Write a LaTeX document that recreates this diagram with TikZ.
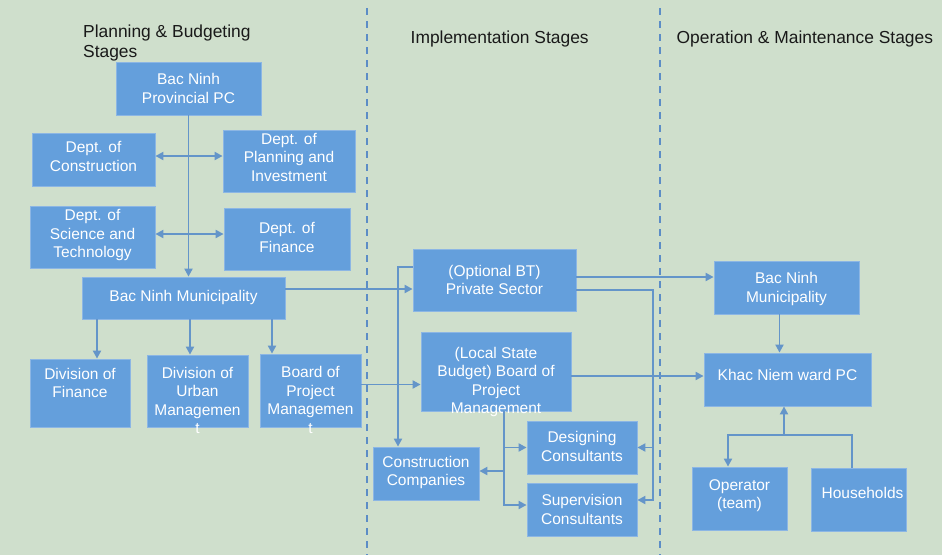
\documentclass[tikz,border=0pt]{standalone}
\usepackage{fontspec}
\setmainfont{Liberation Sans}
\usetikzlibrary{arrows.meta}

\definecolor{bggreen}{RGB}{207,223,204}
\definecolor{boxblue}{RGB}{100,159,220}
\definecolor{boxedge}{RGB}{140,182,228}
\definecolor{linkblue}{RGB}{100,149,201}
\definecolor{sepblue}{RGB}{92,141,198}

\tikzset{
    box/.style={draw=boxedge, fill=boxblue, line width=0.8pt, inner sep=0pt},
    boxtext/.style={text=white, font=\fontsize{15.5}{18.5}\selectfont, align=center, inner sep=0pt},
    stagetitle/.style={font=\fontsize{17.4}{19.5}\selectfont, inner sep=0pt, text=black!90},
    link/.style={draw=linkblue, line width=1.9pt},
    arr/.style={link, -{Triangle[length=8pt,width=8pt]}},
    dblarr/.style={link, {Triangle[length=8pt,width=8pt]}-{Triangle[length=8pt,width=8pt]}},
    separator/.style={draw=sepblue, line width=2pt, dash pattern=on 7pt off 6pt},
}

\begin{document}
\begin{tikzpicture}[x=1pt, y=-1pt]
\useasboundingbox (0,0) rectangle (942,555);
\fill[bggreen] (0,0) rectangle (942,555);

%% Stage separators
\draw[separator] (367,8) -- (367,555);
\draw[separator] (660,8) -- (660,555);

%% Stage titles
\node[stagetitle, anchor=north west, align=left] (plan) at (83,25) {Planning \& Budgeting\\Stages};
\node[stagetitle, anchor=base west] (impl) at (410.5,43) {Implementation Stages};
\node[stagetitle, anchor=base west] (oper) at (676.5,43) {Operation \& Maintenance Stages};

%% Planning & budgeting
\node[box, minimum width=145pt, minimum height=53pt,
    label={[boxtext]center:{Bac Ninh\\Provincial PC}}] (ppc) at (188.5,88.5) {};
\node[box, minimum width=123pt, minimum height=53pt,
    label={[boxtext, yshift=3pt]center:{Dept. of\\Construction}}] (dcon) at (93.5,159.5) {};
\node[box, minimum width=132pt, minimum height=62pt,
    label={[boxtext, yshift=4pt]center:{Dept. of\\Planning and\\Investment}}] (dpi) at (289,161) {};
\node[box, minimum width=125pt, minimum height=62pt,
    label={[boxtext, yshift=2pt]center:{Dept. of\\Science and\\Technology}}] (dst) at (92.5,237) {};
\node[box, minimum width=126pt, minimum height=62pt,
    label={[boxtext, yshift=1.5pt]center:{Dept. of\\Finance}}] (dfin) at (287,239) {};
\node[box, minimum width=203pt, minimum height=42pt,
    label={[boxtext, yshift=1pt]center:{Bac Ninh Municipality}}] (mun) at (183.5,298) {};
\node[box, minimum width=100pt, minimum height=68pt,
    label={[boxtext, yshift=10pt]center:{Division of\\Finance}}] (divfin) at (80,393) {};
\node[box, minimum width=101pt, minimum height=72pt,
    label={[boxtext, yshift=-9.5pt]center:{Division of\\Urban\\Managemen\\t}}] (divurb) at (197.5,391) {};
\node[box, minimum width=101pt, minimum height=73pt,
    label={[boxtext, yshift=-9.5pt]center:{Board of\\Project\\Managemen\\t}}] (bpm) at (310.5,390.5) {};

%% Implementation
\node[box, minimum width=163pt, minimum height=62pt,
    label={[boxtext]center:{(Optional BT)\\Private Sector}}] (pvt) at (494.5,280) {};
\node[box, minimum width=150pt, minimum height=79pt,
    label={[boxtext, yshift=-10.5pt]center:{(Local State\\Budget) Board of\\Project\\Management}}] (lsb) at (496,371.5) {};
\node[box, minimum width=110pt, minimum height=53pt,
    label={[boxtext, yshift=1pt]center:{Designing\\Consultants}}] (dsg) at (582,447.5) {};
\node[box, minimum width=106pt, minimum height=53pt,
    label={[boxtext, yshift=1pt]center:{Construction\\Companies}}] (cco) at (426,473.5) {};
\node[box, minimum width=110pt, minimum height=53pt,
    label={[boxtext]center:{Supervision\\Consultants}}] (sup) at (582,509.5) {};

%% Operation & maintenance
\node[box, minimum width=145pt, minimum height=53pt,
    label={[boxtext, yshift=-1.5pt]center:{Bac Ninh\\Municipality}}] (mun2) at (786.5,287.5) {};
\node[box, minimum width=167pt, minimum height=53pt,
    label={[boxtext, yshift=4.5pt]center:{Khac Niem ward PC}}] (kn) at (787.5,379.5) {};
\node[box, minimum width=95pt, minimum height=63pt,
    label={[boxtext, yshift=3pt]center:{Operator\\(team)}}] (opr) at (739.5,498.5) {};
\node[box, minimum width=95pt, minimum height=63pt,
    label={[boxtext, xshift=4pt, yshift=6.5pt]center:{Households}}] (hh) at (858.5,499.5) {};

%% Links, planning side
\draw[arr] (ppc.south) -- (ppc.south |- mun.north);
\coordinate (dconout) at ([yshift=3.5pt]dcon.east);
\draw[dblarr] (dconout) -- (dconout -| dpi.west);
\coordinate (dstout) at ([yshift=3pt]dst.east);
\draw[dblarr] (dstout) -- (dstout -| dfin.west);
\coordinate (divfinin) at ([xshift=17pt]divfin.north);
\draw[arr] (divfinin |- mun.south) -- (divfinin);
\coordinate (divurbin) at ([xshift=-7.5pt]divurb.north);
\draw[arr] (divurbin |- mun.south) -- (divurbin);
\coordinate (bpmin) at ([xshift=-38.5pt]bpm.north);
\draw[arr] (bpmin |- mun.south) -- (bpmin);

%% Links into implementation
\coordinate (munout) at ([yshift=9pt]mun.east);
\draw[arr] (munout) -- (munout -| pvt.west);
\coordinate (bpmout) at ([yshift=6pt]bpm.east);
\draw[arr] (bpmout) -- (bpmout -| lsb.west);
\draw[arr] ([yshift=13pt]pvt.west) -| ([xshift=-28pt]cco.north);
\coordinate (rbus) at ([xshift=16pt]dsg.east);
\draw[arr] ([yshift=-10pt]pvt.east) -| (rbus) -- (dsg.east);
\draw[arr] (rbus) |- ([yshift=9.5pt]sup.east);
\coordinate (lsbdrop) at ([xshift=8pt]lsb.south);
\draw[arr] (lsbdrop) |- ([yshift=4.5pt]sup.west);
\draw[arr] (lsbdrop |- dsg.west) -- (dsg.west);
\coordinate (ccoin) at ([yshift=2.5pt]cco.east);
\draw[arr] (lsbdrop |- ccoin) -- (ccoin);

%% Links into operation
\coordinate (pvtout) at ([yshift=3pt]pvt.east);
\draw[arr] (pvtout) -- (pvtout -| mun2.west);
\coordinate (lsbout) at ([yshift=-4.5pt]lsb.east);
\draw[arr] (lsbout) -- (lsbout -| kn.west);
\coordinate (mun2out) at ([xshift=-7pt]mun2.south);
\draw[arr] (mun2out) -- (mun2out |- kn.north);
\coordinate (join) at ([xshift=-3.5pt, yshift=-29pt]kn.south);
\draw[arr] (join) -- (join |- kn.south);
\coordinate (oprin) at ([xshift=-11.5pt]opr.north);
\coordinate (hhout) at ([xshift=-6.5pt]hh.north);
\draw[arr] (hhout) |- (oprin |- join) -- (oprin);
\end{tikzpicture}
\end{document}
